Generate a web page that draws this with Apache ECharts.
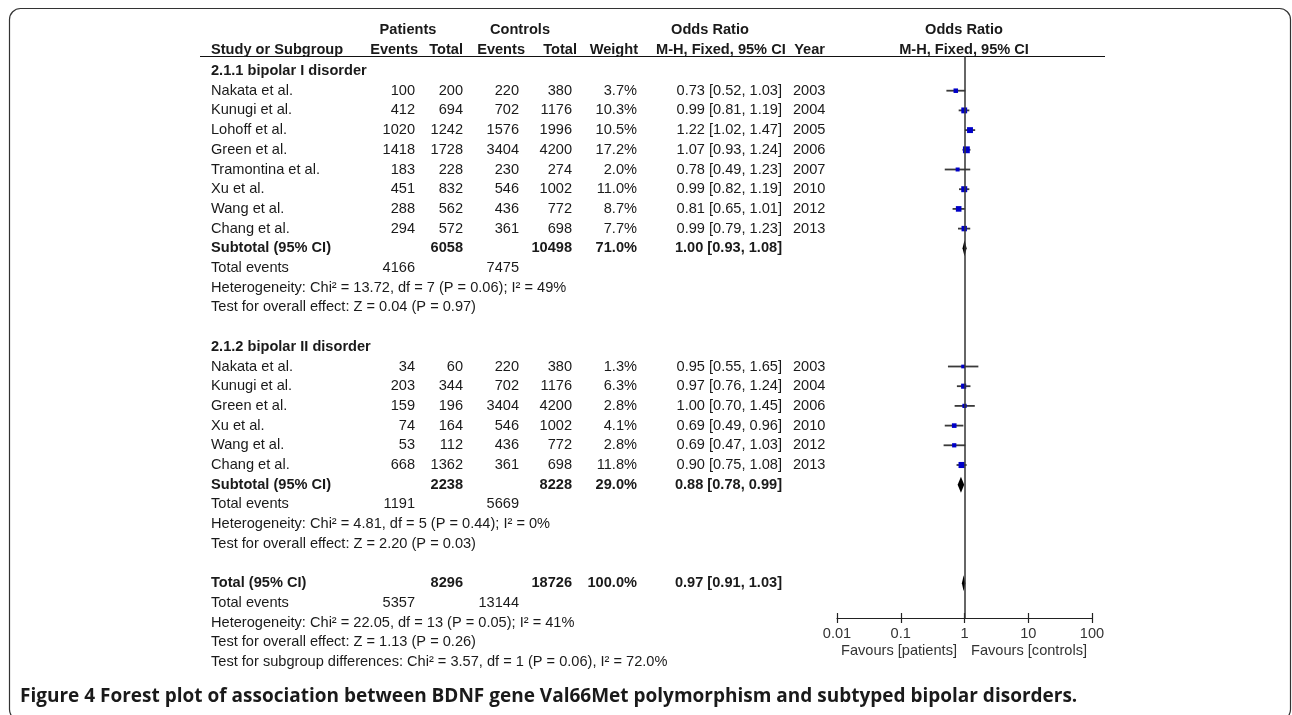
<!DOCTYPE html>
<html>
<head>
<meta charset="utf-8">
<script src="https://cdn.jsdelivr.net/npm/echarts@6/dist/echarts.min.js"></script>
<style>
  html, body { margin: 0; padding: 0; background: #fff; }
  #main { width: 1292px; height: 715px; }
</style>
</head>
<body>
<div id="main"></div>
<script>
// ---- data ----
var g1Studies   = ['Nakata et al.', 'Kunugi et al.', 'Lohoff et al.', 'Green et al.', 'Tramontina et al.', 'Xu et al.', 'Wang et al.', 'Chang et al.'];
var g1PatEvents = [100, 412, 1020, 1418, 183, 451, 288, 294];
var g1PatTotal  = [200, 694, 1242, 1728, 228, 832, 562, 572];
var g1CtlEvents = [220, 702, 1576, 3404, 230, 546, 436, 361];
var g1CtlTotal  = [380, 1176, 1996, 4200, 274, 1002, 772, 698];
var g1Weight    = [3.7, 10.3, 10.5, 17.2, 2.0, 11.0, 8.7, 7.7];
var g1OR        = [0.73, 0.99, 1.22, 1.07, 0.78, 0.99, 0.81, 0.99];
var g1Lo        = [0.52, 0.81, 1.02, 0.93, 0.49, 0.82, 0.65, 0.79];
var g1Hi        = [1.03, 1.19, 1.47, 1.24, 1.23, 1.19, 1.01, 1.23];
var g1Year      = [2003, 2004, 2005, 2006, 2007, 2010, 2012, 2013];

var g2Studies   = ['Nakata et al.', 'Kunugi et al.', 'Green et al.', 'Xu et al.', 'Wang et al.', 'Chang et al.'];
var g2PatEvents = [34, 203, 159, 74, 53, 668];
var g2PatTotal  = [60, 344, 196, 164, 112, 1362];
var g2CtlEvents = [220, 702, 3404, 546, 436, 361];
var g2CtlTotal  = [380, 1176, 4200, 1002, 772, 698];
var g2Weight    = [1.3, 6.3, 2.8, 4.1, 2.8, 11.8];
var g2OR        = [0.95, 0.97, 1.00, 0.69, 0.69, 0.90];
var g2Lo        = [0.55, 0.76, 0.70, 0.49, 0.47, 0.75];
var g2Hi        = [1.65, 1.24, 1.45, 0.96, 1.03, 1.08];
var g2Year      = [2003, 2004, 2006, 2010, 2012, 2013];

// subtotal / total: [patients total, controls total, weight, OR, lo, hi, patient events, control events]
var g1Sub   = [6058, 10498, 71.0, 1.00, 0.93, 1.08, 4166, 7475];
var g2Sub   = [2238, 8228, 29.0, 0.88, 0.78, 0.99, 1191, 5669];
var allSub  = [8296, 18726, 100.0, 0.97, 0.91, 1.03, 5357, 13144];

var g1Notes  = ['Heterogeneity: Chi² = 13.72, df = 7 (P = 0.06); I² = 49%', 'Test for overall effect: Z = 0.04 (P = 0.97)'];
var g2Notes  = ['Heterogeneity: Chi² = 4.81, df = 5 (P = 0.44); I² = 0%', 'Test for overall effect: Z = 2.20 (P = 0.03)'];
var allNotes = ['Heterogeneity: Chi² = 22.05, df = 13 (P = 0.05); I² = 41%', 'Test for overall effect: Z = 1.13 (P = 0.26)',
                'Test for subgroup differences: Chi² = 3.57, df = 1 (P = 0.06), I² = 72.0%'];

var groupTitles = ['2.1.1 bipolar I disorder', '2.1.2 bipolar II disorder'];
var xTicks = [0.01, 0.1, 1, 10, 100];

// ---- layout ----
var FONT = '"Liberation Sans", Arial, sans-serif';
var FS = 14.6;
var TXT = '#1a1a1a';
var COL = { name: 211, pe: 415, pt: 463, ce: 519, ct: 572, wt: 637, ci: 782, yr: 793 };
var ROW0_Y = 71, ROW_H = 19.7, TOP_Y = 56, AXIS_Y = 618, TABLE_BOTTOM = 662;

function ci(or, lo, hi) { return or.toFixed(2) + ' [' + lo.toFixed(2) + ', ' + hi.toFixed(2) + ']'; }
function cell(t, x, align, bold) { return { t: String(t), x: x, align: align || 'right', bold: !!bold }; }

var tableRows = [];
var studyPts = [];
var diamonds = [];

function addGroup(r, title, names, pe, pt, ce, ct, wt, or, lo, hi, yr, sub, notes) {
  tableRows.push({ r: r, cells: [cell(title, COL.name, 'left', true)] });
  for (var i = 0; i < names.length; i++) {
    var rr = r + 1 + i;
    tableRows.push({ r: rr, cells: [
      cell(names[i], COL.name, 'left'), cell(pe[i], COL.pe), cell(pt[i], COL.pt),
      cell(ce[i], COL.ce), cell(ct[i], COL.ct), cell(wt[i].toFixed(1) + '%', COL.wt),
      cell(ci(or[i], lo[i], hi[i]), COL.ci), cell(yr[i], COL.yr, 'left')
    ] });
    studyPts.push([or[i], lo[i], hi[i], wt[i], rr]);
  }
  var s = r + 1 + names.length;
  addTotal(s, 'Subtotal (95% CI)', sub, notes);
  return s;
}

function addTotal(s, label, sub, notes) {
  tableRows.push({ r: s, cells: [
    cell(label, COL.name, 'left', true), cell(sub[0], COL.pt, 'right', true), cell(sub[1], COL.ct, 'right', true),
    cell(sub[2].toFixed(1) + '%', COL.wt, 'right', true), cell(ci(sub[3], sub[4], sub[5]), COL.ci, 'right', true)
  ] });
  diamonds.push([sub[3], sub[4], sub[5], s]);
  tableRows.push({ r: s + 1, cells: [cell('Total events', COL.name, 'left'), cell(sub[6], COL.pe), cell(sub[7], COL.ce)] });
  for (var k = 0; k < notes.length; k++) {
    tableRows.push({ r: s + 2 + k, cells: [cell(notes[k], COL.name, 'left')] });
  }
}

var s1 = addGroup(0, groupTitles[0], g1Studies, g1PatEvents, g1PatTotal, g1CtlEvents, g1CtlTotal, g1Weight, g1OR, g1Lo, g1Hi, g1Year, g1Sub, g1Notes);
var g2Start = s1 + 5;
var s2 = addGroup(g2Start, groupTitles[1], g2Studies, g2PatEvents, g2PatTotal, g2CtlEvents, g2CtlTotal, g2Weight, g2OR, g2Lo, g2Hi, g2Year, g2Sub, g2Notes);
addTotal(s2 + 5, 'Total (95% CI)', allSub, allNotes);

var rowMin = (TOP_Y - ROW0_Y) / ROW_H;
var rowMaxForest = (AXIS_Y - ROW0_Y) / ROW_H;
var rowMaxTable = (TABLE_BOTTOM - ROW0_Y) / ROW_H;

var dom = document.getElementById('main');
var chart = echarts.init(dom);

function hdr(text, x, y, align) {
  return { type: 'text', silent: true, style: { text: text, x: x, y: y, align: align, verticalAlign: 'middle',
    fontFamily: FONT, fontSize: FS, fontWeight: 'bold', fill: TXT } };
}

var option = {
  animation: false,
  backgroundColor: '#fff',
  grid: [
    { left: 837, width: 255, top: TOP_Y, height: AXIS_Y - TOP_Y },
    { left: 0, width: 1292, top: TOP_Y, height: TABLE_BOTTOM - TOP_Y },
    // thin strip just above the axis, only for the upper half of the ticks
    { left: 837, width: 255, top: AXIS_Y - 10, height: 10 }
  ],
  xAxis: [
    {
      type: 'log', logBase: 10, min: xTicks[0], max: xTicks[xTicks.length - 1], gridIndex: 0, position: 'bottom',
      axisLine: { onZero: false, lineStyle: { color: '#222', width: 1.2 } },
      axisTick: { length: 5, lineStyle: { color: '#222', width: 1.2 } },
      axisLabel: { color: '#333', fontSize: FS, fontFamily: FONT, margin: 8,
        formatter: function (v) { return String(+v.toPrecision(3)); } },
      splitLine: { show: false }
    },
    { type: 'value', min: 0, max: 1, gridIndex: 1, show: false },
    {
      type: 'log', logBase: 10, min: xTicks[0], max: xTicks[xTicks.length - 1], gridIndex: 2, position: 'bottom',
      axisLine: { show: false, onZero: false },
      axisTick: { inside: true, length: 5, lineStyle: { color: '#222', width: 1.2 } },
      axisLabel: { show: false }, splitLine: { show: false }
    }
  ],
  yAxis: [
    { type: 'value', inverse: true, min: rowMin, max: rowMaxForest, gridIndex: 0, show: false },
    { type: 'value', inverse: true, min: rowMin, max: rowMaxTable, gridIndex: 1, show: false },
    { type: 'value', min: 0, max: 1, gridIndex: 2, show: false }
  ],
  series: [
    {
      type: 'custom', name: 'table', xAxisIndex: 1, yAxisIndex: 1, clip: false, silent: true,
      data: tableRows.map(function (r) { return [0, r.r]; }),
      encode: { x: 0, y: 1 },
      renderItem: function (params, api) {
        var row = tableRows[params.dataIndex];
        var y = api.coord([0, api.value(1)])[1];
        return {
          type: 'group',
          children: row.cells.map(function (c) {
            return { type: 'text', style: {
              text: c.t, x: c.x, y: y, align: c.align, verticalAlign: 'middle',
              fontFamily: FONT, fontSize: FS, fontWeight: c.bold ? 'bold' : 'normal', fill: TXT
            } };
          })
        };
      }
    },
    {
      type: 'custom', name: 'studies', xAxisIndex: 0, yAxisIndex: 0, clip: false, silent: true,
      data: studyPts,
      encode: { x: 0, y: 4 },
      renderItem: function (params, api) {
        var r = api.value(4);
        var p = api.coord([api.value(0), r]);
        var a = api.coord([api.value(1), r]);
        var b = api.coord([api.value(2), r]);
        var sz = 2.5 + Math.sqrt(api.value(3)) * 1.05;
        return {
          type: 'group',
          children: [
            { type: 'line', shape: { x1: a[0], y1: a[1], x2: b[0], y2: b[1] }, style: { stroke: '#3a3a3a', lineWidth: 1.8 } },
            { type: 'rect', shape: { x: p[0] - sz / 2, y: p[1] - sz / 2, width: sz, height: sz }, style: { fill: '#0000c8' } }
          ]
        };
      },
      markLine: {
        silent: true, symbol: ['none', 'none'], label: { show: false },
        lineStyle: { color: '#333', type: 'solid', width: 1.5 },
        data: [{ xAxis: 1 }]
      }
    },
    {
      type: 'custom', name: 'pooled', xAxisIndex: 0, yAxisIndex: 0, clip: false, silent: true,
      data: diamonds,
      encode: { x: 0, y: 3 },
      renderItem: function (params, api) {
        var r = api.value(3);
        var p = api.coord([api.value(0), r]);
        var a = api.coord([api.value(1), r]);
        var b = api.coord([api.value(2), r]);
        var h = 8;
        return {
          type: 'polygon',
          shape: { points: [[a[0], p[1]], [p[0], p[1] - h], [b[0], p[1]], [p[0], p[1] + h]] },
          style: { fill: '#000' }
        };
      }
    }
  ],
  graphic: [
    { type: 'rect', silent: true, shape: { x: 9.5, y: 8.5, width: 1281, height: 712, r: 11 }, style: { fill: null, stroke: '#333', lineWidth: 1.2 } },
    { type: 'line', silent: true, shape: { x1: 200, y1: TOP_Y + 0.5, x2: 1105, y2: TOP_Y + 0.5 }, style: { stroke: '#111', lineWidth: 1.2 } },
    // header row 1
    hdr('Patients', 408, 30, 'center'),
    hdr('Controls', 520, 30, 'center'),
    hdr('Odds Ratio', 710, 30, 'center'),
    hdr('Odds Ratio', 964, 30, 'center'),
    // header row 2
    hdr('Study or Subgroup', COL.name, 50, 'left'),
    hdr('Events', 418, 50, 'right'),
    hdr('Total', 463, 50, 'right'),
    hdr('Events', 525, 50, 'right'),
    hdr('Total', 577, 50, 'right'),
    hdr('Weight', 638, 50, 'right'),
    hdr('M-H, Fixed, 95% CI', 656, 50, 'left'),
    hdr('Year', 825, 50, 'right'),
    hdr('M-H, Fixed, 95% CI', 964, 50, 'center'),
    // favours labels
    { type: 'text', silent: true, style: { text: 'Favours [patients]', x: 899, y: 651, align: 'center', verticalAlign: 'middle', fontFamily: FONT, fontSize: FS, fill: '#333' } },
    { type: 'text', silent: true, style: { text: 'Favours [controls]', x: 1029, y: 651, align: 'center', verticalAlign: 'middle', fontFamily: FONT, fontSize: FS, fill: '#333' } },
    // caption
    { type: 'text', silent: true, style: { text: 'Figure 4 Forest plot of association between BDNF gene Val66Met polymorphism and subtyped bipolar disorders.',
      x: 20, y: 697, align: 'left', verticalAlign: 'middle', fontFamily: '"Open Sans", sans-serif', fontSize: 19, fontWeight: 'bold', fill: '#1a1a1a' } }
  ]
};

chart.setOption(option, true);
</script>
</body>
</html>
